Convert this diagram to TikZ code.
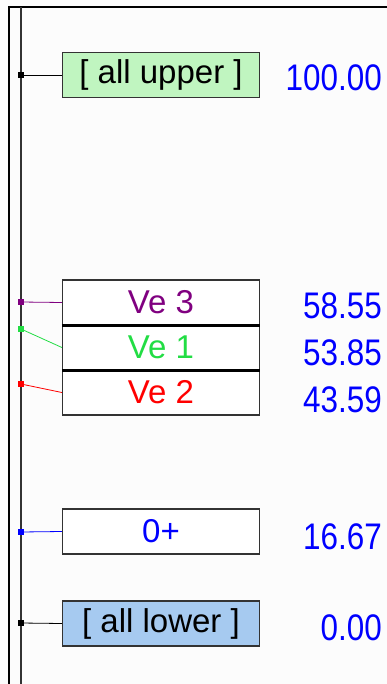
\documentclass[tikz,border=0pt]{standalone}
\usepackage{fontspec}
\setsansfont{Liberation Sans}
\newfontfamily\valfont{Liberation Sans}[FakeStretch=0.85]
\definecolor{uppergreen}{HTML}{C0F5C0}
\definecolor{lowerblue}{HTML}{A6CAF0}
\definecolor{vepurple}{HTML}{800080}
\definecolor{vegreen}{HTML}{22DD44}
\definecolor{vered}{HTML}{FF0000}
\definecolor{valblue}{HTML}{0000FF}
\definecolor{framegray}{HTML}{333333}

\begin{document}
\begin{tikzpicture}[
  x=1pt, y=-1pt,
  font=\sffamily,
  levelbox/.style={draw=framegray, line width=1.2pt, fill=white, minimum width=197pt, minimum height=45pt, inner sep=0pt, align=center, font=\sffamily\fontsize{33}{33}\selectfont},
  valtext/.style={anchor=east, text=valblue, inner sep=0pt, font=\valfont\fontsize{37}{37}\selectfont},
  dotbox/.style={rectangle, minimum size=6pt, inner sep=0pt}
]
\useasboundingbox (0,0) rectangle (387,684);
\fill[white!99!black] (0,0) rectangle (387,684);

% Window frame and the scale axis
\draw[line width=2pt] (387,7) -- (9,7) -- (9,684);
\draw[framegray, line width=1.5pt] (21,7) -- (21,684);

% Level boxes
\node[levelbox, fill=uppergreen] (upper) at (161,75) {[ all upper ]};
\node[levelbox, text=vepurple] (ve3) at (161,302.5) {Ve 3};
\node[levelbox, text=vegreen] (ve1) at (161,347.5) {Ve 1};
\node[levelbox, text=vered] (ve2) at (161,392.5) {Ve 2};
\node[levelbox, text=valblue] (zero) at (161,531.5) {0+};
\node[levelbox, fill=lowerblue] (lower) at (161,623.5) {[ all lower ]};
% shared edges of the stacked boxes
\draw[line width=2.4pt] (ve3.south west) -- (ve3.south east);
\draw[line width=2.4pt] (ve1.south west) -- (ve1.south east);

% Markers on the axis
\node[dotbox] (mu) at (21,75) {};
\node[dotbox] (m3) at (21,302) {};
\node[dotbox] (m1) at (21,329) {};
\node[dotbox] (m2) at (21,384) {};
\node[dotbox] (m0) at (21,532) {};
\node[dotbox] (ml) at (21,623) {};

% Connectors
\draw[line width=0.8pt] (mu.center) -- (upper.west);
\draw[vepurple, line width=0.8pt] (m3.center) -- (ve3.west);
\draw[vegreen, line width=0.8pt] (m1.center) -- (ve1.west);
\draw[vered, line width=0.8pt] (m2.center) -- (ve2.west);
\draw[valblue, line width=0.8pt] (m0.center) -- (zero.west);
\draw[line width=0.8pt] (ml.center) -- (lower.west);
\node[dotbox, fill=black] at (mu) {};
\node[dotbox, fill=vepurple] at (m3) {};
\node[dotbox, fill=vegreen] at (m1) {};
\node[dotbox, fill=vered] at (m2) {};
\node[dotbox, fill=valblue] at (m0) {};
\node[dotbox, fill=black] at (ml) {};

% Values
\node[valtext] (vupper) at (382,78) {100.00};
\node[valtext] (v3) at (382,306) {58.55};
\node[valtext] (v1) at (382,353) {53.85};
\node[valtext] (v2) at (382,400) {43.59};
\node[valtext] (v0) at (382,537) {16.67};
\node[valtext] (vlower) at (382,628) {0.00};

\end{tikzpicture}
\end{document}
